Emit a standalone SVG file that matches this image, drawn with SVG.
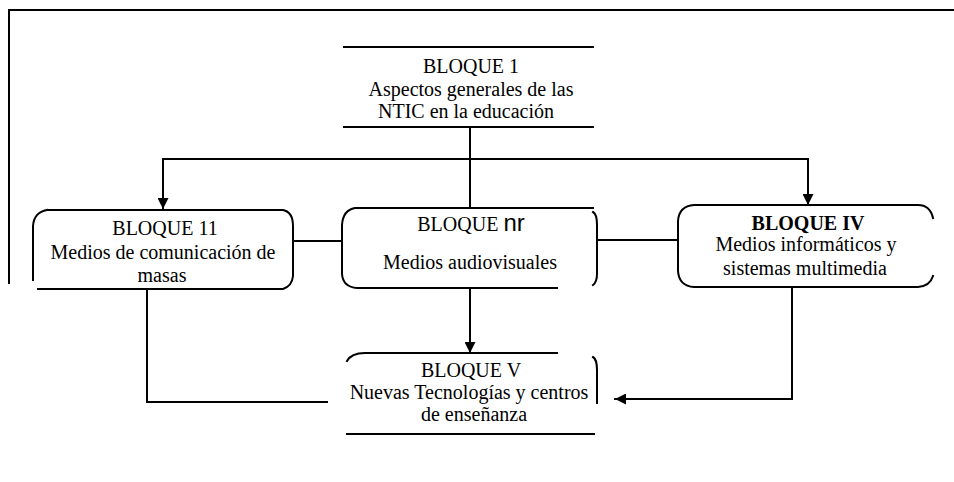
<svg xmlns="http://www.w3.org/2000/svg" width="954" height="482" viewBox="0 0 954 482">
<style>
.ln{fill:none;stroke:#000;stroke-width:2;stroke-linecap:square}
.t{font-family:"Liberation Serif","Times New Roman",serif;font-size:20px;fill:#000;text-anchor:middle}
.b{font-weight:bold}
.s{font-family:"Liberation Sans",Arial,sans-serif;font-size:24px}
</style>
<defs>
<marker id="ah" viewBox="0 0 10 10" refX="10" refY="5" markerWidth="11" markerHeight="11" markerUnits="userSpaceOnUse" orient="auto">
<path d="M0,0 L10,5 L0,10 Z" fill="#000"/>
</marker>
</defs>
<rect width="954" height="482" fill="#fff"/>
<g id="frame">
<path class="ln" d="M9,283 L9,10 L954,10"/>
</g>
<g id="connectors">
<path class="ln" d="M470,127 L470,208"/>
<path class="ln" d="M163,159 L808,159"/>
<path class="ln" d="M163,159 L163,209" marker-end="url(#ah)"/>
<path class="ln" d="M808,159 L808,205" marker-end="url(#ah)"/>
<path class="ln" d="M293,241 L342,241"/>
<path class="ln" d="M597,240 L678,240"/>
<path class="ln" d="M470,288 L470,353" marker-end="url(#ah)"/>
<path class="ln" d="M147,289 L147,402 L327,402"/>
<path class="ln" d="M792,287 L792,399 L615,399" marker-end="url(#ah)"/>
</g>
<g id="bloque1">
<path class="ln" d="M344,47 L593,47 M344,127 L593,127"/>
<text class="t" x="471" y="73">BLOQUE 1</text>
<text class="t" x="471" y="96">Aspectos generales de las</text>
<text class="t" x="466" y="118">NTIC en la educación</text>
</g>
<g id="bloque2">
<path class="ln" d="M47,210 L283,210 Q293,212 293,226 L293,276 Q292,286 283,289 L38,289 M47,210 Q34,212 33,226 L33,280"/>
<text class="t" x="165" y="235">BLOQUE 11</text>
<text class="t" x="163" y="259">Medios de comunicación de</text>
<text class="t" x="162" y="282">masas</text>
</g>
<g id="bloque3">
<path class="ln" d="M593,208 L355,208 Q343,210 342,225 L342,274 Q343,287 357,288 L557,288 M593,212 Q597,214 597,225 L597,274 Q597,282 593,285"/>
<text class="t" x="471" y="231">BLOQUE <tspan class="s">nr</tspan></text>
<text class="t" x="470" y="269">Medios audiovisuales</text>
</g>
<g id="bloque4">
<path class="ln" d="M933,218 Q930,205 918,205 L694,205 Q679,206 678,221 L678,271 Q679,286 694,287 L918,287 Q930,286 933,276"/>
<text class="t b" x="808" y="230">BLOQUE IV</text>
<text class="t" x="806" y="251">Medios informáticos y</text>
<text class="t" x="805" y="275">sistemas multimedia</text>
</g>
<g id="bloque5">
<path class="ln" d="M347,361 Q351,353 365,353 L557,353 M593,357 Q597,359 597,370 L597,403 M347,434 L594,434"/>
<text class="t" x="471" y="377">BLOQUE V</text>
<text class="t" x="469" y="399">Nuevas Tecnologías y centros</text>
<text class="t" x="474" y="421">de enseñanza</text>
</g>
</svg>
